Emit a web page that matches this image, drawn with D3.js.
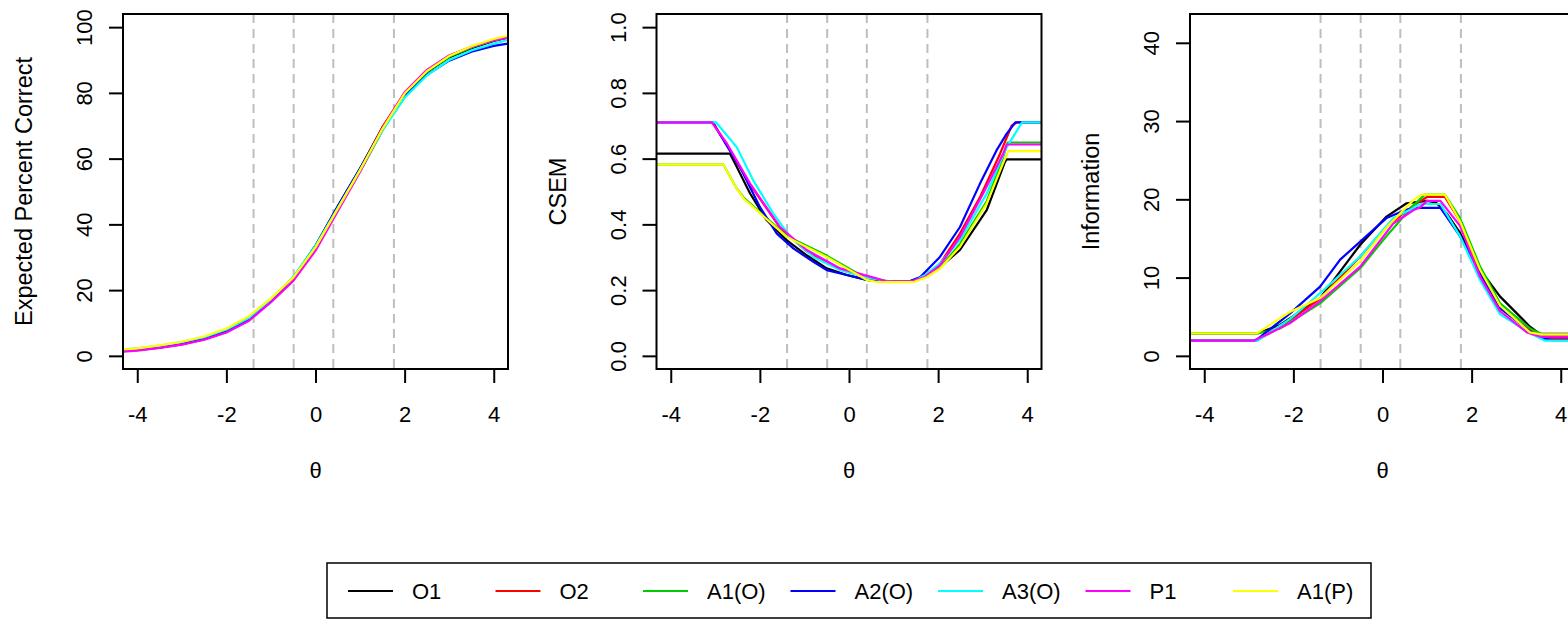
<!DOCTYPE html>
<html><head><meta charset="utf-8">
<script src="https://cdn.jsdelivr.net/npm/d3@7"></script>
<style>body{margin:0;background:#fff}svg{display:block}text{font-family:"Liberation Sans",Arial,sans-serif;fill:#000}</style>
</head><body><svg id="c" width="1568" height="621"></svg>
<script>
const seriesNames = ["O1","O2","A1(O)","A2(O)","A3(O)","P1","A1(P)"];
const seriesColors = ["#000000","#FF0000","#00CD00","#0000FF","#00FFFF","#FF00FF","#FFFF00"];
const cutScores = [-1.39,-0.49,0.40,1.76];
const xTicks = [-4,-2,0,2,4];
const yTicksPC = [0,20,40,60,80,100];
const yTicksCSEM = [0,0.2,0.4,0.6,0.8,1.0];
const yTicksInfo = [0,10,20,30,40];

// Panel 1: expected percent correct on a common theta grid
const thetaPC = [-4.32,-4,-3.5,-3,-2.5,-2,-1.5,-1,-0.5,0,0.5,1,1.5,2,2.5,3,3.5,4,4.32];
const pcO1  = [1.7,2.0,2.7,3.7,5.2,7.4,10.9,17.0,23.6,33.5,45.5,57.0,69.5,79.5,86.3,90.8,93.6,95.8,96.8];
const pcO2  = [1.4,1.7,2.5,3.5,5.0,7.3,10.8,16.5,23.0,32.5,44.5,56.5,69.5,80.0,86.8,91.3,94.0,96.1,96.9];
const pcA1O = [1.8,2.1,2.9,4.0,5.5,7.7,11.2,16.8,23.2,32.5,44.5,56.0,68.5,79.5,86.5,91.0,93.8,96.0,97.0];
const pcA2O = [1.6,1.9,2.6,3.6,5.1,7.3,10.8,17.0,23.8,33.5,45.5,57.0,69.0,79.0,85.5,89.8,92.5,94.3,95.0];
const pcA3O = [2.0,2.3,3.1,4.2,5.7,8.0,11.5,17.2,24.0,33.5,45.0,56.5,68.5,78.5,85.3,90.0,92.9,95.0,96.1];
const pcP1  = [1.3,1.6,2.4,3.4,4.9,7.1,10.6,16.3,22.8,32.0,44.0,56.0,69.2,80.2,87.0,91.4,94.0,96.0,96.8];
const pcA1P = [2.0,2.3,3.2,4.3,5.9,8.3,12.0,17.5,23.8,33.0,44.8,56.5,69.0,79.8,86.6,91.2,94.2,96.4,97.4];

// Panel 2: CSEM, [theta, value]
const csemO1  = [[-4.32,0.615],[-2.67,0.615],[-2.52,0.575],[-2.22,0.494],[-1.85,0.413],[-1.40,0.352],[-0.95,0.306],[-0.5,0.266],[-0.05,0.246],[0.4,0.231],[0.8,0.226],[1.35,0.226],[1.6,0.238],[2.04,0.27],[2.49,0.322],[3.09,0.443],[3.5,0.59],[3.54,0.598],[4.32,0.598]];
const csemO2  = [[-4.32,0.71],[-3.05,0.71],[-2.74,0.64],[-2.22,0.522],[-1.55,0.39],[-0.95,0.318],[-0.2,0.263],[0.47,0.238],[0.85,0.226],[1.4,0.226],[1.7,0.24],[2.04,0.28],[2.49,0.372],[2.94,0.483],[3.39,0.615],[3.65,0.70],[3.76,0.71],[4.32,0.71]];
const csemA1O = [[-4.32,0.582],[-2.82,0.582],[-2.52,0.509],[-2.36,0.481],[-1.40,0.365],[-0.5,0.305],[0.4,0.235],[0.65,0.226],[1.44,0.226],[1.75,0.245],[2.04,0.268],[2.49,0.34],[3.09,0.47],[3.45,0.6],[3.56,0.649],[4.32,0.649]];
const csemA2O = [[-4.32,0.71],[-3.05,0.71],[-2.97,0.69],[-2.45,0.575],[-2.0,0.453],[-1.62,0.372],[-1.25,0.327],[-0.8,0.286],[-0.5,0.261],[-0.05,0.246],[0.4,0.231],[0.8,0.226],[1.35,0.226],[1.6,0.24],[2.04,0.301],[2.49,0.392],[2.94,0.524],[3.31,0.625],[3.54,0.676],[3.73,0.71],[4.32,0.71]];
const csemA3O = [[-4.32,0.71],[-2.98,0.71],[-2.52,0.635],[-2.15,0.534],[-1.70,0.433],[-1.32,0.362],[-0.8,0.301],[-0.2,0.261],[0.4,0.238],[0.95,0.226],[1.44,0.226],[1.7,0.245],[2.04,0.281],[2.49,0.352],[3.09,0.494],[3.54,0.635],[3.88,0.71],[4.32,0.71]];
const csemP1  = [[-4.32,0.71],[-3.08,0.71],[-2.74,0.646],[-2.22,0.524],[-1.55,0.392],[-0.95,0.322],[-0.2,0.266],[0.47,0.241],[0.85,0.227],[1.4,0.227],[1.7,0.24],[2.04,0.275],[2.49,0.362],[3.01,0.494],[3.46,0.615],[3.54,0.643],[4.32,0.643]];
const csemA1P = [[-4.32,0.582],[-2.82,0.582],[-2.52,0.509],[-2.36,0.478],[-1.40,0.362],[-0.5,0.301],[0.4,0.231],[0.65,0.224],[1.44,0.224],[1.75,0.24],[2.04,0.265],[2.49,0.332],[3.09,0.463],[3.5,0.6],[3.58,0.623],[4.32,0.623]];

// Panel 3: information, [theta, value]
const infoO1  = [[-4.32,2.88],[-2.8,2.88],[-2.3,3.95],[-1.40,7.36],[-0.95,10.8],[-0.5,14.2],[0.09,17.8],[0.54,19.5],[1.0,19.8],[1.2,19.6],[1.44,18.2],[1.74,15.7],[2.19,11.0],[2.64,7.57],[3.31,3.73],[3.53,2.8],[4.32,2.8]];
const infoO2  = [[-4.32,1.94],[-2.85,1.94],[-2.3,3.6],[-1.40,7.36],[-0.5,12.7],[0.09,16.5],[0.69,19.2],[1.0,20.3],[1.4,20.3],[1.74,17.2],[2.19,10.6],[2.64,6.1],[3.31,3.3],[3.6,2.3],[4.32,2.3]];
const infoA1O = [[-4.32,2.88],[-2.8,2.88],[-2.3,3.5],[-1.40,6.7],[-0.5,11.2],[0.09,15.3],[0.69,19.2],[0.95,20.6],[1.4,20.6],[1.74,17.6],[2.19,11.4],[2.64,6.7],[3.31,3.5],[3.6,2.7],[4.32,2.7]];
const infoA2O = [[-4.32,1.94],[-2.85,1.94],[-2.08,5.4],[-1.40,8.84],[-0.95,12.3],[-0.5,14.6],[0.09,17.6],[0.54,18.7],[0.8,18.9],[1.3,18.9],[1.74,15.3],[2.19,10.6],[2.64,6.1],[3.31,3.1],[3.6,2.2],[3.8,2.0],[4.32,2.0]];
const infoA3O = [[-4.32,1.94],[-2.8,1.94],[-2.08,4.7],[-1.40,8.0],[-0.5,12.7],[0.24,17.6],[0.69,18.9],[0.85,19.4],[1.3,19.4],[1.74,15.3],[2.19,9.7],[2.64,5.3],[3.31,2.9],[3.65,1.94],[4.32,1.94]];
const infoP1  = [[-4.32,1.94],[-2.9,1.94],[-2.79,2.2],[-2.08,4.16],[-1.40,6.98],[-0.5,11.4],[0.24,16.9],[0.69,18.6],[0.85,19.0],[1.0,19.8],[1.3,19.8],[1.74,16.6],[2.19,10.1],[2.64,5.7],[3.24,3.0],[3.55,2.46],[4.32,2.46]];
const infoA1P = [[-4.32,2.88],[-2.82,2.88],[-2.08,5.6],[-1.40,7.4],[-0.5,12.1],[0.09,16.4],[0.69,19.9],[0.88,20.6],[1.4,20.6],[1.74,17.2],[2.19,11.0],[2.64,6.4],[3.31,3.0],[3.55,2.75],[4.32,2.75]];

const pcSeries = [pcO1,pcO2,pcA1O,pcA2O,pcA3O,pcP1,pcA1P].map(v => v.map((yv,i)=>[thetaPC[i],yv]));
const csemSeries = [csemO1,csemO2,csemA1O,csemA2O,csemA3O,csemP1,csemA1P];
const infoSeries = [infoO1,infoO2,infoA1O,infoA2O,infoA3O,infoP1,infoA1P];

const panels = [
  {ylab:"Expected Percent Correct", ydom:[0,100], ticks:yTicksPC, fmt:d3.format("d"), data:pcSeries},
  {ylab:"CSEM", ydom:[0,1], ticks:yTicksCSEM, fmt:d3.format(".1f"), data:csemSeries},
  {ylab:"Information", ydom:[0,42], ticks:yTicksInfo, fmt:d3.format("d"), data:infoSeries}
];

const svg = d3.select("#c");
svg.append("rect").attr("width",1568).attr("height",621).attr("fill","#fff");
const plotTop = 14, plotBottom = 369, pw = 385, colW = 533.5, left0 = 123;
const FS = 22, FT = 23.5;
const FF = '"Liberation Sans",Arial,sans-serif';

panels.forEach((p,i) => {
  const L = left0 + i*colW;
  const xd = [-4,4], xe = (xd[1]-xd[0])*0.04;
  const x = d3.scaleLinear().domain([xd[0]-xe, xd[1]+xe]).range([L, L+pw]);
  const ye = (p.ydom[1]-p.ydom[0])*0.04;
  const y = d3.scaleLinear().domain([p.ydom[0]-ye, p.ydom[1]+ye]).range([plotBottom, plotTop]);
  const g = svg.append("g");
  const clipId = "clip"+i;
  g.append("clipPath").attr("id",clipId).append("rect").attr("x",L).attr("y",plotTop).attr("width",pw).attr("height",plotBottom-plotTop);

  g.selectAll("line.cut").data(cutScores).join("line").attr("class","cut")
    .attr("x1",d=>x(d)).attr("x2",d=>x(d)).attr("y1",plotTop).attr("y2",plotBottom)
    .attr("stroke","#BEBEBE").attr("stroke-width",2).attr("stroke-dasharray","9,6");

  const line = d3.line().x(d=>x(d[0])).y(d=>y(d[1]));
  const cg = g.append("g").attr("clip-path",`url(#${clipId})`);
  p.data.forEach((s,k) => {
    cg.append("path").attr("d",line(s)).attr("fill","none")
      .attr("stroke",seriesColors[k]).attr("stroke-width",2.2).attr("stroke-linejoin","round");
  });

  g.append("rect").attr("x",L).attr("y",plotTop).attr("width",pw).attr("height",plotBottom-plotTop)
    .attr("fill","none").attr("stroke","#000").attr("stroke-width",2);

  const xa = g.append("g").attr("transform",`translate(0,${plotBottom})`)
    .call(d3.axisBottom(x).tickValues(xTicks).tickSize(14).tickSizeOuter(0).tickFormat(d=>String(d)));
  xa.select(".domain").remove();
  xa.selectAll(".tick line").attr("stroke","#000").attr("stroke-width",2);
  xa.selectAll(".tick text").attr("y",53).attr("dy",0).style("font-size",FS+"px")
    .style("font-family",FF).attr("fill","#000");

  const ya = g.append("g").attr("transform",`translate(${L},0)`)
    .call(d3.axisLeft(y).tickValues(p.ticks).tickSize(14).tickSizeOuter(0).tickFormat(p.fmt));
  ya.select(".domain").remove();
  ya.selectAll(".tick line").attr("stroke","#000").attr("stroke-width",2);
  ya.selectAll(".tick text").attr("x",0).attr("y",-31).attr("dy",0)
    .attr("transform","rotate(-90)").attr("text-anchor","middle").style("font-size",FS+"px")
    .style("font-family",FF).attr("fill","#000");

  g.append("text").attr("transform",`translate(${L-91},${(plotTop+plotBottom)/2}) rotate(-90)`)
    .attr("text-anchor","middle").style("font-size",FT+"px").text(p.ylab);
  g.append("text").attr("x",L+pw/2).attr("y",478).attr("text-anchor","middle")
    .style("font-size",FS+"px").text("θ");
});

const lg = svg.append("g");
lg.append("rect").attr("x",327).attr("y",563).attr("width",1044).attr("height",55)
  .attr("fill","#fff").attr("stroke","#000").attr("stroke-width",1.5);
const lx = d3.scaleLinear().domain([0,6]).range([348,1233]);
seriesNames.forEach((n,k) => {
  lg.append("line").attr("x1",lx(k)).attr("x2",lx(k)+45).attr("y1",591).attr("y2",591)
    .attr("stroke",seriesColors[k]).attr("stroke-width",2);
  lg.append("text").attr("x",lx(k)+64).attr("y",599).style("font-size",FS+"px").text(n);
});
</script></body></html>
